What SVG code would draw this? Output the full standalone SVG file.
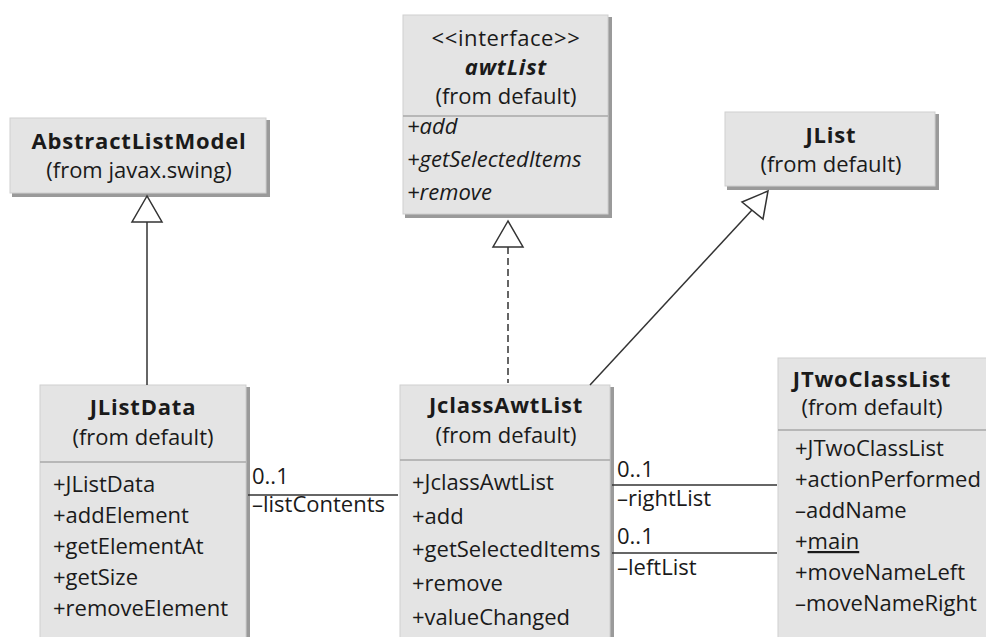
<svg xmlns="http://www.w3.org/2000/svg" width="986" height="637" viewBox="0 0 986 637">
  <defs>
    <style>
      text { font-family: "Open Sans", Lato, "Liberation Sans", sans-serif; font-size: 22px; fill: #1a1a1a; }
      .title { font-weight: bold; text-anchor: middle; letter-spacing: 0.8px; }
      .sub { text-anchor: middle; }
      .ital { font-style: italic; }
      .box { fill: #e4e4e4; stroke: #cfcfcf; stroke-width: 1; }
      .shadow { fill: #9a9a9a; }
      .divider { stroke: #a8a8a8; stroke-width: 1.5; }
      .edge { stroke: #333; stroke-width: 1.5; fill: none; }
      .dashed { stroke-dasharray: 7 4; }
      .head { fill: #fff; stroke: #333; stroke-width: 1.5; stroke-linejoin: miter; }
    </style>
  </defs>
  <rect width="986" height="637" fill="#fff"/>

  <!-- class boxes -->
  <g id="AbstractListModel">
    <rect class="shadow" x="12" y="120" width="258" height="77"/>
    <rect class="box" x="10" y="118" width="256" height="75"/>
    <text class="title" x="139" y="149">AbstractListModel</text>
    <text class="sub" x="139" y="178">(from javax.swing)</text>
  </g>

  <g id="awtList">
    <rect class="shadow" x="405" y="17" width="207" height="201"/>
    <rect class="box" x="403" y="15" width="205" height="199"/>
    <text class="sub" x="506" y="46" letter-spacing="0.6">&lt;&lt;interface&gt;&gt;</text>
    <text class="title ital" x="506" y="75">awtList</text>
    <text class="sub" x="506" y="104">(from default)</text>
    <line class="divider" x1="403" y1="116" x2="608" y2="116"/>
    <text class="ital" x="407" y="134">+add</text>
    <text class="ital" x="407" y="167">+getSelectedItems</text>
    <text class="ital" x="407" y="200">+remove</text>
  </g>

  <g id="JList">
    <rect class="shadow" x="727" y="114" width="212" height="76"/>
    <rect class="box" x="725" y="112" width="210" height="74"/>
    <text class="title" x="831" y="143">JList</text>
    <text class="sub" x="831" y="172">(from default)</text>
  </g>

  <g id="JListData">
    <rect class="shadow" x="42" y="387" width="208" height="260"/>
    <rect class="box" x="40" y="385" width="206" height="260"/>
    <text class="title" x="143" y="415">JListData</text>
    <text class="sub" x="143" y="445">(from default)</text>
    <line class="divider" x1="40" y1="462" x2="246" y2="462"/>
    <text x="53" y="492">+JListData</text>
    <text x="53" y="523">+addElement</text>
    <text x="53" y="554">+getElementAt</text>
    <text x="53" y="585">+getSize</text>
    <text x="53" y="616">+removeElement</text>
  </g>

  <g id="JclassAwtList">
    <rect class="shadow" x="402" y="387" width="212" height="260"/>
    <rect class="box" x="400" y="385" width="210" height="260"/>
    <text class="title" x="506" y="413">JclassAwtList</text>
    <text class="sub" x="506" y="443">(from default)</text>
    <line class="divider" x1="400" y1="460" x2="610" y2="460"/>
    <text x="412" y="490">+JclassAwtList</text>
    <text x="412" y="524">+add</text>
    <text x="412" y="557">+getSelectedItems</text>
    <text x="412" y="591">+remove</text>
    <text x="412" y="625">+valueChanged</text>
  </g>

  <g id="JTwoClassList">
    <rect class="box" x="778" y="358" width="215" height="290"/>
    <text class="title" x="872" y="387">JTwoClassList</text>
    <text class="sub" x="872" y="415">(from default)</text>
    <line class="divider" x1="778" y1="430" x2="986" y2="430"/>
    <text x="795" y="456">+JTwoClassList</text>
    <text x="795" y="487">+actionPerformed</text>
    <text x="795" y="518">–addName</text>
    <text x="795" y="549">+<tspan text-decoration="underline">main</tspan></text>
    <text x="795" y="580">+moveNameLeft</text>
    <text x="795" y="611">–moveNameRight</text>
  </g>

  <!-- connectors -->
  <g id="connectors">
    <!-- JListData generalizes AbstractListModel -->
    <line class="edge" x1="147" y1="222" x2="147" y2="385"/>
    <polygon class="head" points="147,196 132,222 162,222"/>

    <!-- JclassAwtList realizes awtList -->
    <line class="edge dashed" x1="508" y1="247" x2="508" y2="383"/>
    <polygon class="head" points="508,221 493,247 523,247"/>

    <!-- JclassAwtList generalizes JList -->
    <line class="edge" x1="590" y1="385" x2="752" y2="210"/>
    <polygon class="head" points="768,191 742,202 763,219"/>

    <!-- listContents association -->
    <line class="edge" x1="248" y1="495" x2="398" y2="495"/>
    <text x="252" y="484">0..1</text>
    <text x="252" y="512">–listContents</text>

    <!-- rightList association -->
    <line class="edge" x1="612" y1="485" x2="777" y2="485"/>
    <text x="617" y="477">0..1</text>
    <text x="617" y="506">–rightList</text>

    <!-- leftList association -->
    <line class="edge" x1="612" y1="553" x2="777" y2="553"/>
    <text x="617" y="544">0..1</text>
    <text x="617" y="575">–leftList</text>
  </g>
</svg>
